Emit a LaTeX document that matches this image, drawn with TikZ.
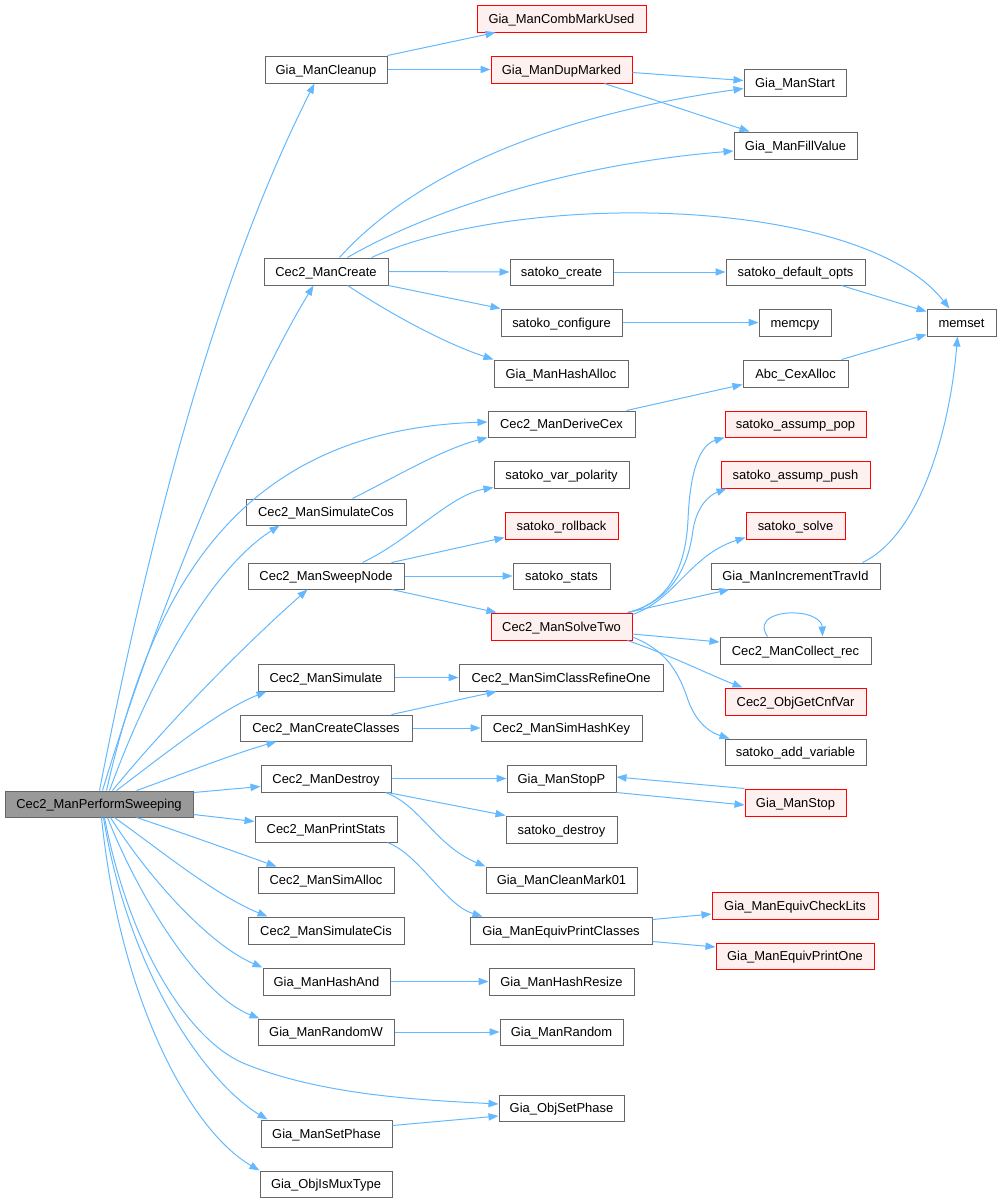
\documentclass[tikz,border=0pt]{standalone}
\usepackage{fontspec}
\setmainfont{Liberation Sans}
\usetikzlibrary{arrows.meta,calc}
\definecolor{edgeblue}{HTML}{63B8FF}
\definecolor{boxgray}{HTML}{666666}
\definecolor{redfill}{HTML}{FFF0F0}
\definecolor{rootfill}{HTML}{999999}
\newcommand\gnode[7][box]{\node[#1,minimum width={(#5-#3)*0.75pt},minimum height={(#6-#4)*0.75pt}] (#2) at ({(#3+#5)/2},{(#4+#6)/2}) {#7};}
\tikzset{
  box/.style={draw=boxgray,fill=white,line width=0.75pt,inner sep=0pt,text height=6.95pt,text depth=0pt,font=\fontsize{9.7pt}{11pt}\selectfont},
  redbox/.style={box,draw=red,fill=redfill},
  rootbox/.style={box,fill=rootfill},
  conn/.style={draw=edgeblue,line width=0.75pt,-{Triangle[length=7.5pt,width=5.5pt]}}
}
\begin{document}
\begin{tikzpicture}[x=0.75pt,y=-0.75pt]
\useasboundingbox (0,0) rectangle (1001,1203);
% nodes
\gnode[rootbox]{R}{5}{791}{193}{817}{Cec2\_ManPerformSweeping}
\gnode{cleanup}{265}{56}{387}{83}{Gia\_ManCleanup}
\gnode[redbox]{comb}{477}{5}{646}{32}{Gia\_ManCombMarkUsed}
\gnode[redbox]{dupm}{491}{56}{632}{83}{Gia\_ManDupMarked}
\gnode{gstart}{744}{69}{846}{96}{Gia\_ManStart}
\gnode{fill}{734}{132}{857}{159}{Gia\_ManFillValue}
\gnode{create}{264}{258}{388}{285}{Cec2\_ManCreate}
\gnode{screate}{510}{259}{613}{285}{satoko\_create}
\gnode{sdef}{726}{259}{865}{285}{satoko\_default\_opts}
\gnode{sconf}{501}{309}{622}{336}{satoko\_configure}
\gnode{memcpy}{759}{309}{831}{336}{memcpy}
\gnode{memset}{927}{309}{996}{336}{memset}
\gnode{hashalloc}{494}{360}{628}{387}{Gia\_ManHashAlloc}
\gnode{cex}{743}{360}{848}{387}{Abc\_CexAlloc}
\gnode{dcex}{488}{411}{635}{437}{Cec2\_ManDeriveCex}
\gnode[redbox]{spop}{725}{411}{866}{437}{satoko\_assump\_pop}
\gnode{svp}{494}{461}{629}{488}{satoko\_var\_polarity}
\gnode[redbox]{spush}{721}{461}{870}{488}{satoko\_assump\_push}
\gnode{simcos}{246}{499}{406}{525}{Cec2\_ManSimulateCos}
\gnode[redbox]{rollback}{505}{512}{618}{539}{satoko\_rollback}
\gnode[redbox]{ssolve}{746}{512}{845}{539}{satoko\_solve}
\gnode{sweep}{248}{563}{404}{589}{Cec2\_ManSweepNode}
\gnode{stats}{513}{563}{610}{589}{satoko\_stats}
\gnode{travid}{711}{563}{880}{589}{Gia\_ManIncrementTravId}
\gnode[redbox]{solvetwo}{491}{613}{632}{640}{Cec2\_ManSolveTwo}
\gnode{collect}{720}{637}{871}{664}{Cec2\_ManCollect\_rec}
\gnode{simulate}{258}{664}{394}{691}{Cec2\_ManSimulate}
\gnode{refine}{459}{664}{663}{691}{Cec2\_ManSimClassRefineOne}
\gnode[redbox]{cnfvar}{725}{688}{866}{715}{Cec2\_ObjGetCnfVar}
\gnode{createcls}{240}{715}{412}{741}{Cec2\_ManCreateClasses}
\gnode{hashkey}{481}{715}{642}{741}{Cec2\_ManSimHashKey}
\gnode{addvar}{725}{739}{866}{765}{satoko\_add\_variable}
\gnode{destroy}{261}{765}{391}{792}{Cec2\_ManDestroy}
\gnode{stopp}{507}{765}{616}{792}{Gia\_ManStopP}
\gnode[redbox]{gstop}{745}{789}{846}{816}{Gia\_ManStop}
\gnode{sdestroy}{506}{816}{617}{843}{satoko\_destroy}
\gnode{printstats}{255}{816}{397}{842}{Cec2\_ManPrintStats}
\gnode{cleanmark}{486}{867}{637}{893}{Gia\_ManCleanMark01}
\gnode{simalloc}{258}{867}{394}{893}{Cec2\_ManSimAlloc}
\gnode{epc}{470}{917}{652}{944}{Gia\_ManEquivPrintClasses}
\gnode[redbox]{checklits}{712}{892}{878}{919}{Gia\_ManEquivCheckLits}
\gnode{simcis}{248}{917}{404}{944}{Cec2\_ManSimulateCis}
\gnode[redbox]{printone}{716}{943}{874}{969}{Gia\_ManEquivPrintOne}
\gnode{hashand}{263}{968}{390}{995}{Gia\_ManHashAnd}
\gnode{hashresize}{489}{968}{634}{995}{Gia\_ManHashResize}
\gnode{randomw}{258}{1019}{394}{1045}{Gia\_ManRandomW}
\gnode{random}{500}{1019}{623}{1045}{Gia\_ManRandom}
\gnode{objsetphase}{499}{1095}{624}{1121}{Gia\_ObjSetPhase}
\gnode{setphase}{261}{1120}{392}{1147}{Gia\_ManSetPhase}
\gnode{ismux}{260}{1171}{392}{1197}{Gia\_ObjIsMuxType}
% edges from root
\draw[conn] ($(R.north west)+(95,0)$) .. controls (160,480) and (230,250) .. ($(cleanup.south west)+(50,0)$);
\draw[conn] ($(R.north west)+(98,0)$) .. controls (160,600) and (250,390) .. ($(create.south west)+(50,0)$);
\draw[conn] ($(R.north west)+(102,0)$) .. controls (150,600) and (230,430) .. ($(dcex.west)+(0,-2)$);
\draw[conn] ($(R.north west)+(105,0)$) .. controls (150,680) and (210,570) .. ($(simcos.south west)+(34,0)$);
\draw[conn] ($(R.north west)+(108,0)$) .. controls (170,720) and (250,640) .. ($(sweep.south west)+(60,0)$);
\draw[conn] ($(R.north west)+(112,0)$) .. controls (170,750) and (220,710) .. ($(simulate.south west)+(9,0)$);
\draw[conn] ($(R.north west)+(132,0)$) .. controls (180,775) and (230,755) .. ($(createcls.south west)+(37,0)$);
\draw[conn] ($(R.north east)+(0,2)$) -- ($(destroy.west)+(0,8)$);
\draw[conn] ($(R.south east)+(0,-3)$) -- ($(printstats.north west)+(0,6)$);
\draw[conn] ($(R.south west)+(132,0)$) .. controls (180,832) and (230,850) .. ($(simalloc.north west)+(19,0)$);
\draw[conn] ($(R.south west)+(110,0)$) .. controls (160,850) and (215,895) .. ($(simcis.north west)+(20,0)$);
\draw[conn] ($(R.south west)+(106,0)$) .. controls (150,880) and (210,945) .. (hashand.north west);
\draw[conn] ($(R.south west)+(103,0)$) .. controls (140,900) and (200,995) .. ($(randomw.north west)+(2,0)$);
\draw[conn] ($(R.south west)+(100,0)$) .. controls (130,950) and (190,1040) .. (243,1063) .. controls (320,1095) and (420,1100) .. ($(objsetphase.west)+(0,-4)$);
\draw[conn] ($(R.south west)+(99,0)$) .. controls (130,980) and (210,1085) .. ($(setphase.north west)+(7,0)$);
\draw[conn] ($(R.south west)+(97,0)$) .. controls (120,1000) and (190,1130) .. (ismux.north west);
% other edges
\draw[conn] (cleanup.north east) -- ($(comb.south west)+(19,0)$);
\draw[conn] (cleanup.east) -- (dupm.west);
\draw[conn] ($(dupm.east)+(0,3)$) -- ($(gstart.west)+(0,-2)$);
\draw[conn] ($(dupm.south west)+(114,0)$) -- ($(fill.north west)+(16,0)$);
\draw[conn] ($(create.north west)+(76,0)$) .. controls (400,190) and (520,120) .. ($(gstart.west)+(0,6)$);
\draw[conn] ($(create.north west)+(84,0)$) .. controls (420,215) and (560,165) .. ($(fill.west)+(0,5.5)$);
\draw[conn] ($(create.north west)+(108,0)$) .. controls (520,190) and (860,195) .. ($(memset.north west)+(23,0)$);
\draw[conn] (create.east) -- (screate.west);
\draw[conn] (create.south east) -- (sconf.north west);
\draw[conn] ($(create.south west)+(84,0)$) .. controls (400,320) and (450,345) .. (hashalloc.north west);
\draw[conn] (screate.east) -- (sdef.west);
\draw[conn] ($(sdef.south west)+(116,0)$) -- ($(memset.north west)+(0,3)$);
\draw[conn] (sconf.east) -- (memcpy.west);
\draw[conn] ($(cex.north west)+(99,0)$) -- ($(memset.south west)+(0,-2)$);
\draw[conn] ($(travid.north west)+(152,0)$) .. controls (920,535) and (950,430) .. ($(memset.south west)+(31,0)$);
\draw[conn] ($(dcex.north west)+(139,0)$) -- ($(cex.south west)+(0,-3)$);
\draw[conn] ($(simcos.north west)+(107,0)$) .. controls (390,480) and (440,450) .. (dcex.south west);
\draw[conn] ($(sweep.north west)+(115,0)$) .. controls (410,540) and (450,495) .. ($(svp.south west)+(0,-1)$);
\draw[conn] ($(sweep.north west)+(144,0)$) -- ($(rollback.south west)+(0,-2)$);
\draw[conn] (sweep.east) -- (stats.west);
\draw[conn] ($(sweep.south west)+(144,0)$) -- ($(solvetwo.north west)+(6,0)$);
\draw[conn] ($(solvetwo.north east)+(-5,0)$) .. controls (660,605) and (685,580) .. (688,520) .. controls (690,470) and (700,445) .. (spop.south west);
\draw[conn] ($(solvetwo.north east)+(-3,0)$) .. controls (670,600) and (688,570) .. (693,530) .. controls (697,505) and (710,495) .. ($(spush.south west)+(6,0)$);
\draw[conn] ($(solvetwo.north east)+(0,2)$) .. controls (675,600) and (690,555) .. ($(ssolve.south west)+(0,-2)$);
\draw[conn] ($(solvetwo.north east)+(-5,0)$) -- ($(travid.south west)+(19,0)$);
\draw[conn] ($(solvetwo.east)+(0,7.5)$) -- ($(collect.west)+(0,-8.5)$);
\draw[conn] ($(collect.north west)+(48,0)$) .. controls (755,618) and (780,612) .. (795,613) .. controls (810,613) and (822,620) .. ($(collect.north west)+(103,0)$);
\draw[conn] ($(solvetwo.south east)+(-5,0)$) .. controls (670,655) and (710,675) .. ($(cnfvar.north west)+(18,0)$);
\draw[conn] ($(solvetwo.east)+(0,10.5)$) .. controls (665,650) and (678,670) .. (688,700) .. controls (697,725) and (712,733) .. ($(addvar.north west)+(5,0)$);
\draw[conn] (simulate.east) -- (refine.west);
\draw[conn] ($(createcls.north west)+(152,0)$) -- ($(refine.south west)+(38,0)$);
\draw[conn] (createcls.east) -- (hashkey.west);
\draw[conn] (destroy.east) -- (stopp.west);
\draw[conn] ($(destroy.south east)+(-4,0)$) -- (sdestroy.north west);
\draw[conn] ($(destroy.south east)+(-6,0)$) .. controls (420,805) and (435,845) .. (cleanmark.north west);
\draw[conn] (stopp.south east) -- ($(gstop.west)+(0,2.5)$);
\draw[conn] (gstop.north west) -- ($(stopp.east)+(0,-1.5)$);
\draw[conn] ($(printstats.south east)+(-10,0)$) .. controls (420,855) and (445,905) .. ($(epc.north west)+(13,0)$);
\draw[conn] ($(epc.north east)+(0,3)$) -- ($(checklits.west)+(0,8.5)$);
\draw[conn] ($(epc.south east)+(0,-3)$) -- ($(printone.west)+(0,-9)$);
\draw[conn] (hashand.east) -- (hashresize.west);
\draw[conn] (randomw.east) -- (random.west);
\draw[conn] ($(setphase.north east)+(0,6)$) -- ($(objsetphase.west)+(0,8)$);
\end{tikzpicture}
\end{document}
